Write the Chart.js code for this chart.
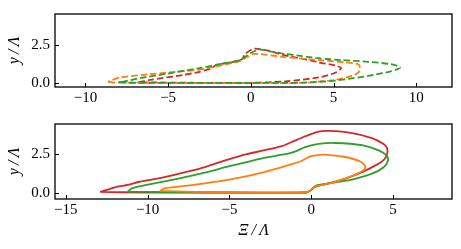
<!DOCTYPE html>
<html>
<head>
<meta charset="utf-8">
<script src="https://cdn.jsdelivr.net/npm/chart.js@4"></script>
<style>
    body { margin: 0; background: #fff; }
    #caixaTopo { position: absolute; left: 0; top: 0; width: 461px; height: 110px; }
    #caixaBaixo { position: absolute; left: 0; top: 110px; width: 461px; height: 139px; }
</style>
</head>
<body>
<div id="caixaTopo"><canvas id="graficoTopo"></canvas></div>
<div id="caixaBaixo"><canvas id="graficoBaixo"></canvas></div>
<script>
// Dados do gráfico de cima (tracejado)

const topoVerdeX = [-7.6, -8.0, -7.7, -6.7, -5.1, -3.1, -2.1, -0.65, -0.24, 0.26, 0.5, 1.0, 2.07, 3.0, 4.1, 5.5, 7.1, 8.5, 9.03, 8.5, 7.1, 6.0, 5.1, 4.0, 3.1, 2.0, 0, -3, -6, -7.6];
const topoVerdeY = [0.03, 0.08, 0.1, 0.33, 0.61, 0.98, 1.19, 1.5, 1.8, 2.11, 2.2, 2.1, 1.9, 1.78, 1.62, 1.5, 1.39, 1.23, 1.02, 0.78, 0.47, 0.3, 0.17, 0.08, 0.03, 0.02, 0.02, 0.02, 0.02, 0.03];

const topoLaranjaX = [-8.3, -8.6, -8.5, -7.9, -6.1, -4.1, -3.1, -2.1, -0.65, -0.24, 0.16, 0.46, 2.07, 4.09, 5.7, 6.5, 6.6, 6.5, 6.1, 5.1, 3.1, 0, -4, -8.3];
const topoLaranjaY = [0.03, 0.1, 0.15, 0.37, 0.58, 0.78, 0.88, 1.09, 1.44, 1.7, 1.9, 1.9, 1.7, 1.5, 1.35, 1.23, 0.98, 0.68, 0.47, 0.21, 0.02, 0.02, 0.02, 0.03];

const topoVermelhoX = [-6.8, -6.1, -4.1, -3.1, -2.46, -2.06, -1.05, -0.54, -0.34, 0.06, 0.26, 1.07, 2.07, 3.1, 4.09, 5.1, 5.46, 5.1, 4.09, 2.07, 0.06, -3, -6.8];
const topoVermelhoY = [0.06, 0.21, 0.53, 0.74, 0.94, 1.19, 1.39, 1.56, 1.9, 2.2, 2.25, 2.11, 1.8, 1.6, 1.35, 1.15, 0.98, 0.68, 0.37, 0.12, 0.02, 0.02, 0.06];

// Dados do gráfico de baixo (linha cheia)

const baixoLaranjaX = [-9.24, -8.93, -8.12, -6.5, -5.0, -3.0, -1.18, -0.57, -0.06, 0.5, 1.0, 2.0, 3.0, 3.3, 3.2, 2.08, 1.06, 0.24, -0.06, -0.3, -5, -9.24];
const baixoLaranjaY = [0.14, 0.31, 0.41, 0.62, 0.85, 1.3, 1.84, 2.05, 2.32, 2.42, 2.42, 2.3, 2.0, 1.7, 1.45, 0.92, 0.61, 0.41, 0.16, 0.04, 0.04, 0.14];

const baixoVerdeX = [-11.2, -10.97, -10.15, -9.13, -8.12, -6.5, -5.0, -3.0, -1.18, -0.37, 0.45, 1.47, 3.1, 4.12, 4.63, 4.69, 4.42, 3.71, 2.49, 1.06, 0.24, -0.06, -0.3, -6, -11.2];
const baixoVerdeY = [0.1, 0.31, 0.51, 0.71, 0.92, 1.3, 1.7, 2.2, 2.56, 2.91, 3.11, 3.17, 3.03, 2.7, 2.35, 2.05, 1.64, 1.23, 0.86, 0.61, 0.45, 0.16, 0.04, 0.04, 0.1];

const baixoVermelhoX = [-12.9, -12.5, -11.9, -11.2, -10.5, -9.5, -8.5, -7.5, -6.5, -5.0, -4.0, -3.0, -1.8, -1.2, -0.4, 0.45, 1.06, 2.5, 3.7, 4.42, 4.63, 4.63, 4.42, 3.9, 3.1, 2.08, 1.06, 0.24, -0.06, -0.3, -5, -10, -12.9];
const baixoVermelhoY = [0.08, 0.2, 0.4, 0.52, 0.72, 0.9, 1.12, 1.37, 1.65, 2.15, 2.45, 2.68, 2.97, 3.23, 3.58, 3.89, 3.93, 3.8, 3.48, 3.11, 2.86, 2.46, 2.09, 1.74, 1.33, 0.92, 0.61, 0.41, 0.16, 0.04, 0.04, 0.04, 0.08];

// Marcas dos eixos

const ticksXTopo = [-10, -5, 0, 5, 10];
const ticksXBaixo = [-15, -10, -5, 0, 5];
const ticksY = [0, 2.5];

const verde = "#2ca02c";
const laranja = "#ff7f0e";
const vermelho = "#d62728";
const fonte = "'Liberation Serif', serif";

function pontos(xs, ys) {
    return xs.map((x, i) => ({ x: x, y: ys[i] }));
}

function curva(xs, ys, cor, tracejado) {
    return {
        data: pontos(xs, ys),
        borderColor: cor,
        backgroundColor: cor,
        borderWidth: 1.8,
        borderDash: tracejado ? [6.5, 3] : [],
        pointRadius: 0,
        showLine: true,
        tension: 0.25,
    };
}

// moldura e marcas para dentro, como no matplotlib
const moldura = {
    id: "moldura",
    afterDraw(chart) {
        const ctx = chart.ctx;
        const a = chart.chartArea;
        ctx.save();
        ctx.strokeStyle = "#000";
        ctx.lineWidth = 1.3;
        ctx.strokeRect(a.left, a.top, a.right - a.left, a.bottom - a.top);
        ctx.lineWidth = 1;
        chart.scales.x.ticks.forEach((t) => {
            const px = Math.round(chart.scales.x.getPixelForValue(t.value)) + 0.5;
            ctx.beginPath();
            ctx.moveTo(px, a.bottom);
            ctx.lineTo(px, a.bottom - 4);
            ctx.stroke();
        });
        chart.scales.y.ticks.forEach((t) => {
            const py = Math.round(chart.scales.y.getPixelForValue(t.value)) + 0.5;
            ctx.beginPath();
            ctx.moveTo(a.left, py);
            ctx.lineTo(a.left + 4, py);
            ctx.stroke();
        });
        ctx.restore();
    },
};

function configurar(datasets, xmin, xmax, ymin, ymax, ticksX, alturaX, tituloX, padTopo) {
    return {
        type: "scatter",
        data: { datasets: datasets },
        plugins: [moldura],
        options: {
            responsive: true,
            maintainAspectRatio: false,
            animation: false,
            layout: { padding: { top: padTopo, right: 9, left: 0, bottom: 0 } },
            plugins: { legend: { display: false }, tooltip: { enabled: false } },
            scales: {
                x: {
                    type: "linear",
                    min: xmin,
                    max: xmax,
                    grid: { display: false, drawTicks: false },
                    border: { display: false },
                    afterBuildTicks: (s) => { s.ticks = ticksX.map((v) => ({ value: v })); },
                    afterFit: (s) => { s.height = alturaX; },
                    ticks: {
                        padding: 2,
                        color: "#000",
                        maxRotation: 0,
                        font: { family: fonte, size: 15 },
                        callback: (v) => (v < 0 ? "\u2212" + Math.abs(v) : String(v)),
                    },
                    title: {
                        display: tituloX !== "",
                        text: tituloX,
                        color: "#000",
                        padding: { top: 0, bottom: 9 },
                        font: { family: fonte, size: 16, style: "italic" },
                    },
                },
                y: {
                    type: "linear",
                    min: ymin,
                    max: ymax,
                    grid: { display: false, drawTicks: false },
                    border: { display: false },
                    afterBuildTicks: (s) => { s.ticks = ticksY.map((v) => ({ value: v })); },
                    afterFit: (s) => { s.width = 55; },
                    ticks: {
                        padding: 5,
                        color: "#000",
                        font: { family: fonte, size: 15 },
                        callback: (v) => v.toFixed(1),
                    },
                    title: {
                        display: true,
                        text: "y\u2009/\u2009\u039B",
                        color: "#000",
                        padding: { top: 5, bottom: 0 },
                        font: { family: fonte, size: 16, style: "italic" },
                    },
                },
            },
        },
    };
}

var graficoTopo = new Chart(
    document.getElementById("graficoTopo"),
    configurar(
        [
            curva(topoVerdeX, topoVerdeY, verde, true),
            curva(topoLaranjaX, topoLaranjaY, laranja, true),
            curva(topoVermelhoX, topoVermelhoY, vermelho, true),
        ],
        -11.84, 12.16, -0.25, 4.5, ticksXTopo, 23, "", 9
    )
);

var graficoBaixo = new Chart(
    document.getElementById("graficoBaixo"),
    configurar(
        [
            curva(baixoLaranjaX, baixoLaranjaY, laranja, false),
            curva(baixoVerdeX, baixoVerdeY, verde, false),
            curva(baixoVermelhoX, baixoVermelhoY, vermelho, false),
        ],
        -15.66, 8.6, -0.37, 4.37, ticksXBaixo, 50, "\u039E\u2009/\u2009\u039B", 12
    )
);
</script>
</body>
</html>
